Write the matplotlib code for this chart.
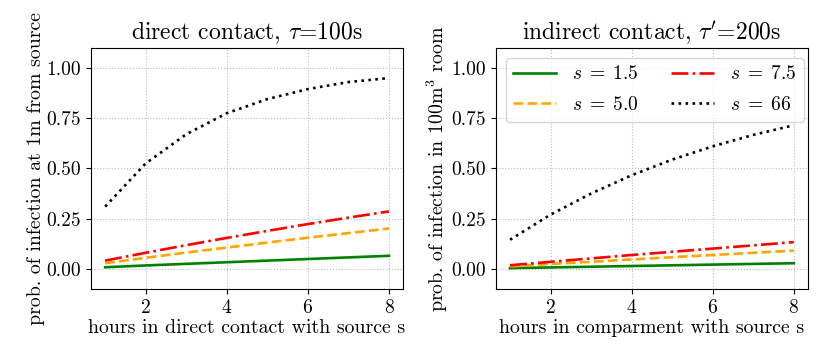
import matplotlib
matplotlib.use("Agg")
import matplotlib.pyplot as plt

plt.rcParams['font.family'] = 'serif'
plt.rcParams['font.serif'] = ['cmr10']
plt.rcParams['mathtext.fontset'] = 'cm'
plt.rcParams['axes.formatter.use_mathtext'] = True

# hours
hours = [1, 2, 3, 4, 5, 6, 7, 8]

# direct contact, tau = 100s
direct_s15 = [0.008, 0.017, 0.025, 0.033, 0.041, 0.049, 0.057, 0.065]
direct_s50 = [0.028, 0.055, 0.081, 0.106, 0.131, 0.155, 0.178, 0.201]
direct_s75 = [0.041, 0.080, 0.118, 0.154, 0.189, 0.223, 0.255, 0.286]
direct_s66 = [0.31, 0.525, 0.67, 0.775, 0.845, 0.895, 0.93, 0.95]

# indirect contact, tau' = 200s
indirect_s15 = [0.0036, 0.0071, 0.0106, 0.0142, 0.0177, 0.0212, 0.0247, 0.028]
indirect_s50 = [0.012, 0.024, 0.035, 0.047, 0.058, 0.069, 0.080, 0.091]
indirect_s75 = [0.018, 0.035, 0.052, 0.069, 0.085, 0.101, 0.117, 0.133]
indirect_s66 = [0.145, 0.27, 0.375, 0.466, 0.544, 0.61, 0.667, 0.715]

labels = [r'$s\;=\;1.5$', r'$s\;=\;5.0$', r'$s\;=\;7.5$', r'$s\;=\;66$']
colors = ['green', 'orange', 'red', 'black']
styles = ['-', '--', '-.', ':']

fig, axes = plt.subplots(1, 2, figsize=(8.3, 3.63), dpi=100)

panels = [
    (axes[0], [direct_s15, direct_s50, direct_s75, direct_s66],
     r'direct contact, $\tau$=100s', 'hours in direct contact with source s',
     'prob. of infection at 1m from source'),
    (axes[1], [indirect_s15, indirect_s50, indirect_s75, indirect_s66],
     r"indirect contact, $\tau'$=200s", 'hours in comparment with source s',
     r'prob. of infection in 100m$^3$ room'),
]

for ax, series, title, xlab, ylab in panels:
    for vals, lab, c, ls in zip(series, labels, colors, styles):
        ax.plot(hours, vals, ls, color=c, label=lab, lw=1.9)
    ax.set_ylim(-0.1, 1.1)
    ax.set_yticks([0.0, 0.25, 0.5, 0.75, 1.0])
    ax.set_yticklabels(['0.00', '0.25', '0.50', '0.75', '1.00'])
    ax.set_xticks([2, 4, 6, 8])
    ax.grid(True, linestyle=':', color='#bbbbbb', lw=0.8)
    ax.set_title(title, fontsize=17)
    ax.set_xlabel(xlab, fontsize=14.3, labelpad=2)
    ax.set_ylabel(ylab, fontsize=14.3, labelpad=1)
    ax.tick_params(labelsize=14)

axes[1].legend(loc='upper left', ncol=2, fontsize=14, handlelength=2.2,
               columnspacing=1.7, labelspacing=0.66, borderaxespad=0.5)

plt.subplots_adjust(left=0.1096, right=0.9735, bottom=0.204, top=0.868, wspace=0.297)
plt.savefig('out.png', dpi=100)
